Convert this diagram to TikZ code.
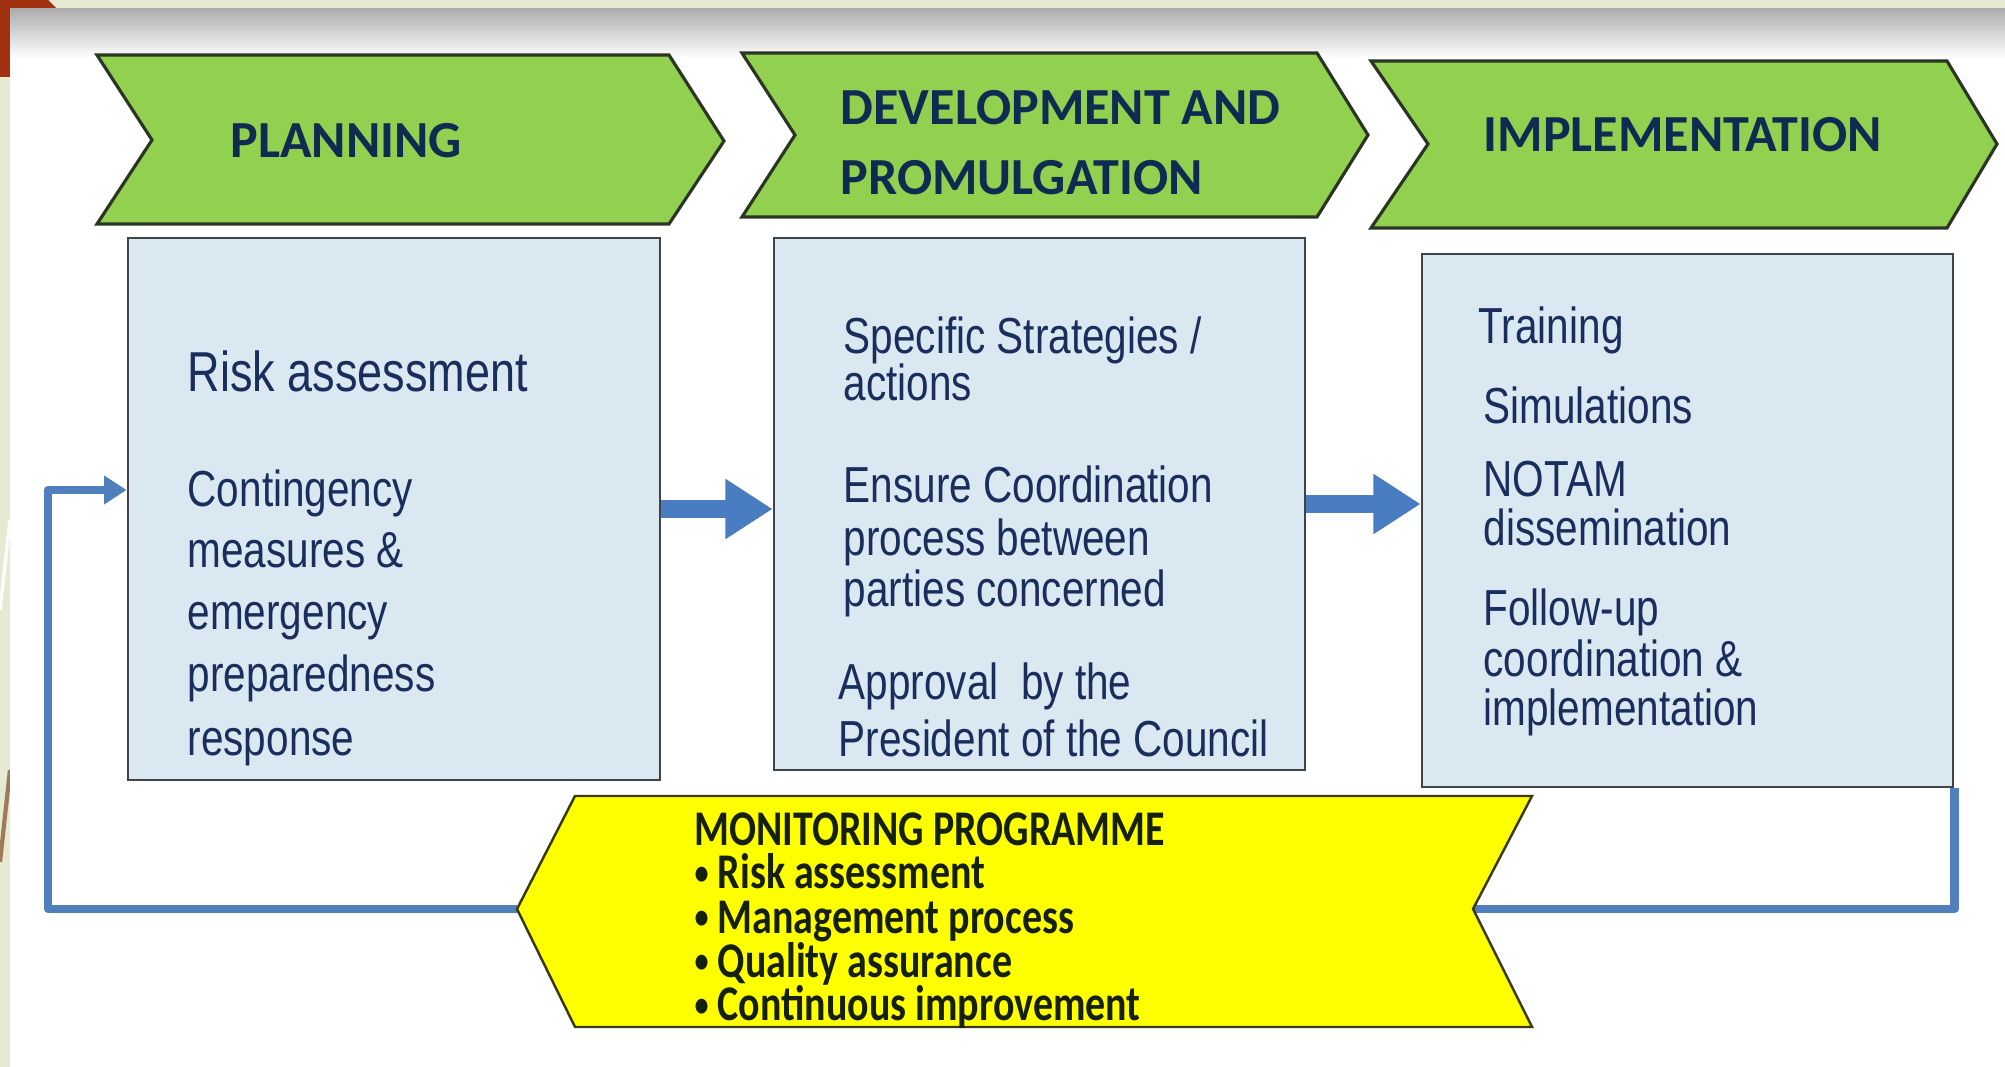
\documentclass[tikz,border=0pt]{standalone}
\usepackage{fontspec}
\usetikzlibrary{arrows.meta,fit}
\newfontfamily\headfont{Carlito}
\newfontfamily\monfont{Carlito}[FakeStretch=0.8]
\newfontfamily\bodyfont{Liberation Sans}[FakeStretch=0.8]

\definecolor{pagebg}{HTML}{E6EAD3}
\definecolor{slidered}{HTML}{A0300E}
\definecolor{chevgreen}{HTML}{92D050}
\definecolor{chevline}{HTML}{2B3524}
\definecolor{boxfill}{HTML}{DAE8F1}
\definecolor{boxline}{HTML}{3E4448}
\definecolor{flowblue}{HTML}{4A7CC2}
\definecolor{loopblue}{HTML}{5080BC}
\definecolor{monyellow}{HTML}{FFFF00}
\definecolor{monline}{HTML}{3A3A10}
\definecolor{headnavy}{HTML}{0F2B52}
\definecolor{bodynavy}{HTML}{1A2E5E}
\definecolor{mondark}{HTML}{16200E}

% small list bullet
\newcommand{\smallbul}{\raisebox{1.3pt}{\fontsize{10}{10}\selectfont\textbullet}}

\begin{document}
\begin{tikzpicture}[x=0.01cm,y=-0.01cm,
  chev/.style={fill=chevgreen,draw=chevline,line width=0.9pt,line join=miter},
  box/.style={rectangle,fill=boxfill,draw=boxline,line width=0.8pt,inner sep=0pt},
  bigarrow/.style={draw=flowblue,line width=5.1pt,-{Triangle[length=13.4pt,width=16.2pt]}},
  loopline/.style={draw=loopblue,line width=2.5pt,line join=round},
  monshape/.style={fill=monyellow,draw=monline,line width=0.7pt},
  heading/.style={font=\headfont\bfseries\fontsize{14.8}{18}\selectfont,text=headnavy,anchor=base west,inner sep=0pt},
  body/.style={font=\bodyfont\fontsize{14.4}{17}\selectfont,text=bodynavy,anchor=base west,inner sep=0pt},
  bodybig/.style={body,font=\bodyfont\fontsize{16}{19}\selectfont},
  montext/.style={font=\monfont\bfseries\fontsize{14.2}{14}\selectfont,text=mondark,anchor=base west,inner sep=0pt}]

\useasboundingbox (0,0) rectangle (2005,1067);

% slide frame and page corner
\fill[pagebg] (0,0) rectangle (2005,1067);
\fill[slidered] (0,0) -- (48,0) -- (57,9) -- (10,9) -- (10,77) -- (0,77) -- cycle;
\draw[white!90!pagebg,line width=1pt] (10,520) -- (0,610);
\draw[brown!70!black!80,line width=1.2pt] (10,770) -- (0,862);
\fill[white] (10,9) rectangle (2005,1067);
\shade[top color=black!32,bottom color=white] (10,9) rectangle (2005,58);

% phase banners
\draw[chev] (97,55) -- (669,55) -- (724,141) -- (669,224) -- (97,224) -- (152,140) -- cycle;
\draw[chev] (742,53) -- (1317,53) -- (1368,135) -- (1317,217) -- (742,217) -- (795,135) -- cycle;
\draw[chev] (1371,61) -- (1947,61) -- (1997,144) -- (1947,228) -- (1371,228) -- (1428,144) -- cycle;

\node[heading] (hPlan) at (230,158) {PLANNING};
\node[heading] (hDev1) at (840,125) {DEVELOPMENT AND};
\node[heading] (hDev2) at (840,195) {PROMULGATION};
\node[heading] (hImpl) at (1483,152) {IMPLEMENTATION};

% phase contents
\node[box,fit={(128,238) (660,780)}] (plan) {};
\node[box,fit={(774,238) (1305,770)}] (dev) {};
\node[box,fit={(1422,254) (1953,787)}] (impl) {};

\node[bodybig] (p0) at (187,392) {Risk assessment};
\node[body] (p1) at (187,507) {Contingency};
\node[body] (p2) at (187,568) {measures \&};
\node[body] (p3) at (187,630) {emergency};
\node[body] (p4) at (187,692) {preparedness};
\node[body] (p5) at (187,756) {response};

\node[body] (d1) at (843,354) {Specific Strategies /};
\node[body] (d2) at (843,401) {actions};
\node[body] (d3) at (843,503) {Ensure Coordination};
\node[body] (d4) at (843,556) {process between};
\node[body] (d5) at (843,607) {parties concerned};
\node[body] (d6) at (838,699) {Approval\ \ by the};
\node[body] (d7) at (838,757) {President of the Council};

\node[body] (i1) at (1478,344) {Training};
\node[body] (i2) at (1483,424) {Simulations};
\node[body] (i3) at (1483,497) {NOTAM};
\node[body] (i4) at (1483,546) {dissemination};
\node[body] (i5) at (1483,626) {Follow-up};
\node[body] (i6) at (1483,677) {coordination \&};
\node[body] (i7) at (1483,726) {implementation};

% flow between phases
\draw[bigarrow] (plan.east) -- (dev.west |- plan.east);
\draw[bigarrow] (dev.east) -- (impl.west |- dev.east);

% monitoring feedback loop
\coordinate (monTip) at (517,909);
\coordinate (monNotch) at (1473,909);
\coordinate (loopCorner) at (48,909);
\draw[loopline] (impl.south east) -- (impl.south east |- monNotch) -- (monNotch);
\draw[loopline,-{Triangle[length=6.4pt,width=7.8pt]}]
  (monTip) -- (loopCorner) |- (plan.west |- 0,490);

\draw[monshape] (575,796) -- (1532,796) -- (monNotch) -- (1532,1027) -- (575,1027) -- (monTip) -- cycle;

\node[montext] (m0) at (694,845) {MONITORING PROGRAMME};
\node[montext] (m1) at (694,889) {\smallbul\ Risk assessment};
\node[montext] (m2) at (694,933) {\smallbul\ Management process};
\node[montext] (m3) at (694,977) {\smallbul\ Quality assurance};
\node[montext] (m4) at (694,1021) {\smallbul\ Continuous improvement};
\end{tikzpicture}
\end{document}
